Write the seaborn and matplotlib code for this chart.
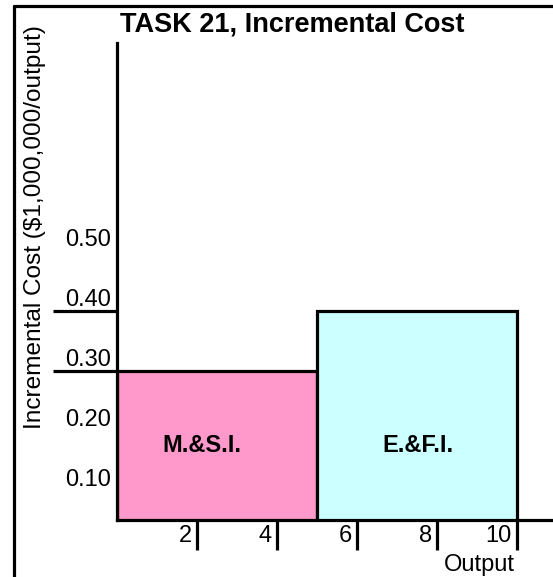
import matplotlib
matplotlib.use("Agg")
import matplotlib.pyplot as plt
from matplotlib.lines import Line2D
from matplotlib.transforms import ScaledTranslation
import seaborn as sns
import pandas as pd

# ---- data ----
segments = ["M.&S.I.", "E.&F.I."]
seg_start = [0, 5]
seg_end = [5, 10]
costs = [0.30, 0.40]
bar_colors = ["#FF99CC", "#CCFFFF"]
x_ticks = [2, 4, 6, 8, 10]
x_tick_labels = ["2", "4", "6", "8", "10"]
y_ticks = [0.10, 0.20, 0.30, 0.40, 0.50]
y_tick_labels = ["0.10", "0.20", "0.30", "0.40", "0.50"]
y_marks = [0.30, 0.40]
title = "TASK 21, Incremental Cost"
xlabel = "Output"
ylabel = "Incremental Cost ($1,000,000/output)"

sns.set_style("white")
plt.rcParams["font.family"] = ["Liberation Sans", "DejaVu Sans"]
plt.rcParams["text.color"] = "black"
plt.rcParams["axes.labelcolor"] = "black"
plt.rcParams["xtick.color"] = "black"
plt.rcParams["ytick.color"] = "black"
plt.rcParams["xtick.labelcolor"] = "black"
plt.rcParams["ytick.labelcolor"] = "black"

W, H = 553, 577
DPI = 100
fig = plt.figure(figsize=(W / DPI, H / DPI), dpi=DPI)

def fx(px):
    return px / W

def fy(py):
    return 1 - py / H

ax = fig.add_axes([fx(117), fy(520), fx(553) - fx(117), fy(43) - fy(520)])

df = pd.DataFrame({
    "mid": [(a + b) / 2 for a, b in zip(seg_start, seg_end)],
    "cost": costs,
    "segment": segments,
})

LW = 2.3
FS = 17
sns.barplot(data=df, x="mid", y="cost", hue="segment", palette=bar_colors,
            saturation=1, native_scale=True, width=1.0, edgecolor="black",
            linewidth=LW, legend=False, ax=ax, zorder=2)

ax.set_xlim(0, 10.9)
ax.set_ylim(0.0512, 0.846)

for s in ["top", "right"]:
    ax.spines[s].set_visible(False)
for s in ["left", "bottom"]:
    ax.spines[s].set_linewidth(LW)
    ax.spines[s].set_color("black")
    ax.spines[s].set_zorder(5)

# x ticks
ax.set_xticks(x_ticks)
ax.set_xticklabels(x_tick_labels)
ax.tick_params(axis="x", direction="out", length=21.6, width=LW, color="black",
               pad=-10.4, labelsize=FS, bottom=True, labelcolor="black")
off = ScaledTranslation(-5 / 100, 0, fig.dpi_scale_trans)
for lbl in ax.get_xticklabels():
    lbl.set_ha("right")
    lbl.set_va("center")
    lbl.set_transform(lbl.get_transform() + off)

# y ticks: labels only on majors, long marks at bar heights as minors
ax.yaxis.remove_overlapping_locs = False
ax.set_yticks(y_ticks)
ax.set_yticklabels(y_tick_labels)
ax.set_yticks(y_marks, minor=True)
ax.tick_params(axis="y", which="major", length=0, pad=4, labelsize=FS, left=True,
               labelcolor="black")
ax.tick_params(axis="y", which="minor", direction="out", length=46, width=LW,
               color="black", left=True)
for lbl in ax.get_yticklabels():
    lbl.set_va("bottom")

ax.set_xlabel("")
ax.set_ylabel("")

# segment labels
label_x = [2.12, 7.52]
for lx, name in zip(label_x, segments):
    ax.text(lx, 0.176, name, ha="center", va="center", fontsize=FS,
            fontweight="bold", color="black", zorder=6)

# axis titles
ax.text(9.05, 0.3 + (370.7 - 565) / 600, xlabel, ha="center", va="center",
        fontsize=FS, color="black", clip_on=False)
fig.text(fx(35), fy(227), ylabel, rotation=90, ha="center", va="center",
         fontsize=17.6, color="black")
fig.text(fx(292), fy(25), title, ha="center", va="center", fontsize=19.5,
         fontweight="bold", color="black")

# outer frame lines (left and top)
fig.add_artist(Line2D([fx(14), fx(14)], [0, fy(6)], color="black", lw=LW,
                      transform=fig.transFigure))
fig.add_artist(Line2D([fx(14), 1], [fy(6), fy(6)], color="black", lw=LW,
                      transform=fig.transFigure))

fig.savefig("out.png", dpi=DPI)
